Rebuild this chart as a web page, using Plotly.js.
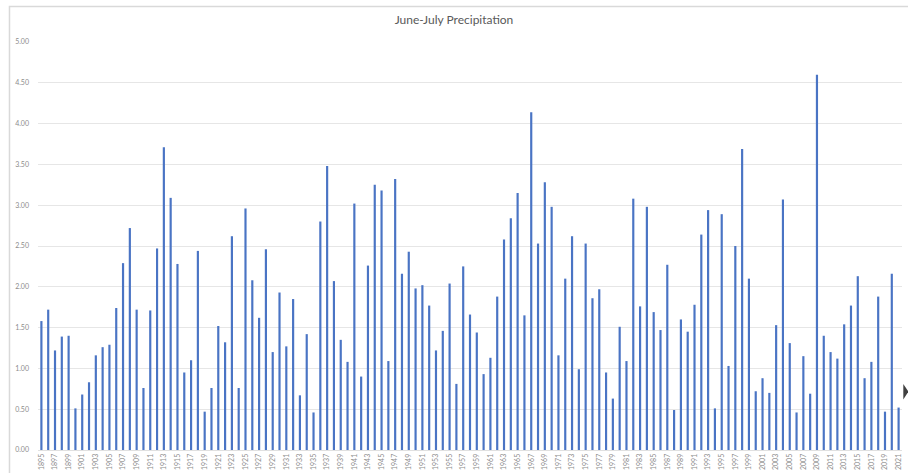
<!DOCTYPE html>
<html>
<head>
<meta charset="utf-8">
<script src="https://cdn.plot.ly/plotly-3.0.1.min.js"></script>
<style>html,body{margin:0;padding:0;background:#fff;}#chart{width:908px;height:473px;}</style>
</head>
<body>
<div id="chart"></div>
<script>
const years = [];
for (let y = 1895; y <= 2021; y++) years.push(String(y));

const precipitation = [
  1.58, 1.72, 1.22, 1.39, 1.40, 0.51, 0.68, 0.83, 1.16, 1.26,
  1.29, 1.74, 2.29, 2.72, 1.72, 0.76, 1.71, 2.47, 3.71, 3.09,
  2.28, 0.95, 1.10, 2.44, 0.47, 0.76, 1.52, 1.32, 2.62, 0.76,
  2.96, 2.08, 1.62, 2.46, 1.20, 1.93, 1.27, 1.85, 0.67, 1.42,
  0.46, 2.80, 3.48, 2.07, 1.35, 1.08, 3.02, 0.90, 2.26, 3.25,
  3.18, 1.09, 3.32, 2.16, 2.43, 1.98, 2.02, 1.77, 1.22, 1.46,
  2.04, 0.81, 2.25, 1.66, 1.44, 0.93, 1.13, 1.88, 2.58, 2.84,
  3.15, 1.65, 4.14, 2.53, 3.28, 2.98, 1.16, 2.10, 2.62, 0.99,
  2.53, 1.86, 1.97, 0.95, 0.63, 1.51, 1.09, 3.08, 1.76, 2.98,
  1.69, 1.47, 2.27, 0.49, 1.60, 1.45, 1.78, 2.64, 2.94, 0.51,
  2.89, 1.03, 2.50, 3.69, 2.10, 0.72, 0.88, 0.70, 1.53, 3.07,
  1.31, 0.46, 1.15, 0.69, 4.60, 1.40, 1.20, 1.12, 1.54, 1.77,
  2.13, 0.88, 1.08, 1.88, 0.47, 2.16, 0.52
];

const tickYears = years.filter((y, i) => i % 2 === 0);
const yTicks = [0, 0.5, 1, 1.5, 2, 2.5, 3, 3.5, 4, 4.5, 5];

const trace = {
  type: 'bar',
  x: years,
  y: precipitation,
  marker: {color: '#4a74c4'},
  hoverinfo: 'x+y'
};

const layout = {
  width: 908,
  height: 473,
  margin: {l: 38, r: 6, t: 42, b: 23, pad: 0},
  paper_bgcolor: '#ffffff',
  plot_bgcolor: '#ffffff',
  bargap: 0.68,
  showlegend: false,
  title: {
    text: 'June-July Precipitation',
    font: {family: 'Lato, "Open Sans", sans-serif', size: 12, color: '#595959'},
    x: 0.5, xanchor: 'center', y: 0.958, yanchor: 'middle'
  },
  xaxis: {
    type: 'category',
    tickmode: 'array',
    tickvals: tickYears,
    ticktext: tickYears,
    tickangle: -90,
    tickfont: {family: 'Lato, "Open Sans", sans-serif', size: 7, color: '#8c8c8c'},
    showgrid: false,
    zeroline: false,
    showline: true,
    linecolor: '#e0e0e0',
    linewidth: 1,
    ticks: '',
    range: [-0.5, 126.5],
    fixedrange: true
  },
  yaxis: {
    range: [0, 5],
    tickmode: 'array',
    tickvals: yTicks,
    ticktext: yTicks.map(v => v.toFixed(2)),
    tickfont: {family: 'Lato, "Open Sans", sans-serif', size: 7, color: '#8c8c8c'},
    showgrid: true,
    gridcolor: '#e6e6e6',
    gridwidth: 1,
    zeroline: false,
    showline: false,
    ticks: '',
    ticklabelstandoff: 8,
    fixedrange: true
  },
  shapes: [
    {type: 'rect', xref: 'paper', yref: 'paper', layer: 'below',
     x0: -0.033, x1: 1.02, y0: -0.06, y1: 1.087,
     line: {color: '#d9d9d9', width: 1.5}, fillcolor: 'rgba(0,0,0,0)'},
    {type: 'path', xref: 'paper', yref: 'paper',
     path: 'M 1.0015 0.162 L 1.0075 0.143 L 1.0015 0.124 Z',
     fillcolor: '#404040', line: {width: 0}}
  ]
};

Plotly.newPlot('chart', [trace], layout, {displayModeBar: false, staticPlot: true});
</script>
</body>
</html>
